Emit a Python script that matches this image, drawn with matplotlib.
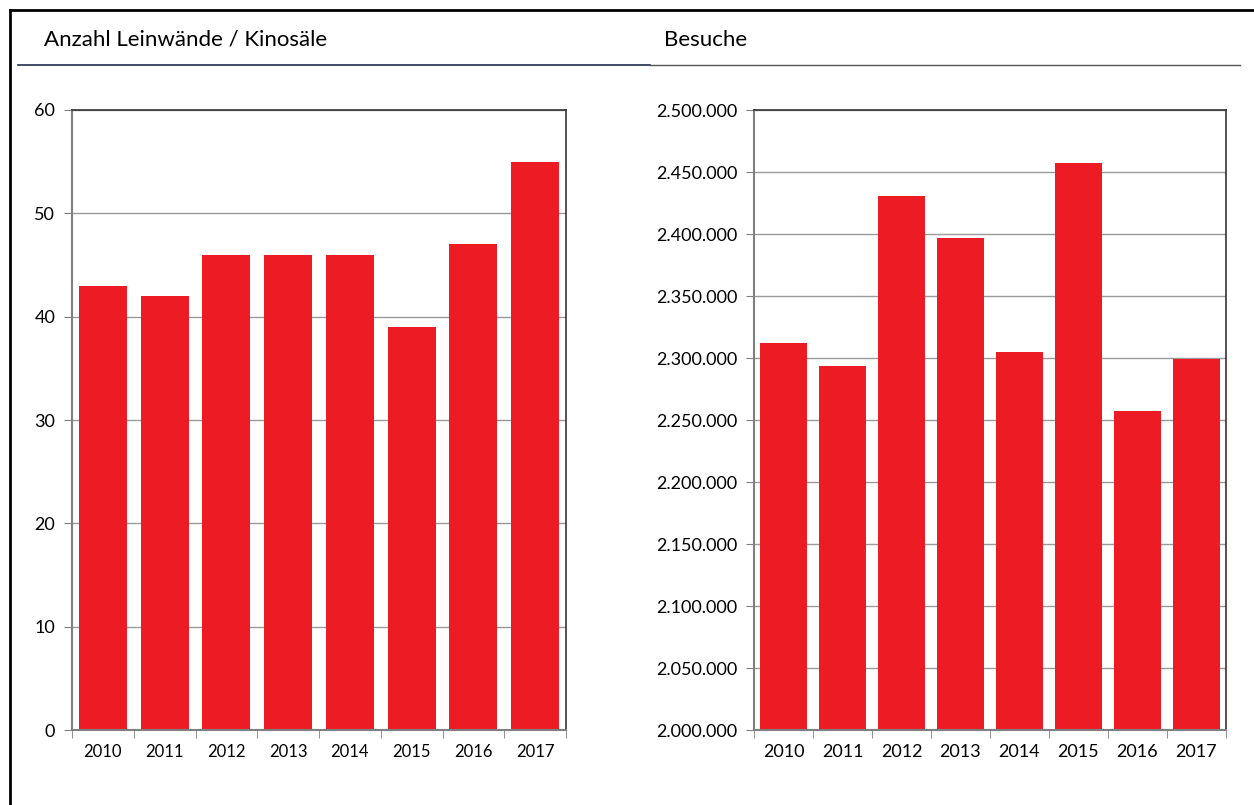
import matplotlib
matplotlib.use('Agg')
import matplotlib.pyplot as plt
from matplotlib.ticker import FuncFormatter, FixedLocator
from matplotlib.lines import Line2D

# Data
years = ['2010', '2011', '2012', '2013', '2014', '2015', '2016', '2017']
screens = [43, 42, 46, 46, 46, 39, 47, 55]
visits = [2312000, 2293500, 2430600, 2396800, 2304800, 2457300, 2257000, 2299000]

title_left = 'Anzahl Leinwände / Kinosäle'
title_right = 'Besuche'

red = '#ED1C24'
plt.rcParams['font.family'] = ['Lato', 'DejaVu Sans']

fig = plt.figure(figsize=(12.54, 8.05), dpi=100)
W, H = 1254, 805


def px_axes(x0, y0, x1, y1):
    return fig.add_axes([x0 / W, 1 - y1 / H, (x1 - x0) / W, (y1 - y0) / H])


def style(ax, n, ysize, xsize):
    ax.set_xlim(-0.5, n - 0.5)
    ax.set_axisbelow(True)
    ax.yaxis.grid(True, color='#9a9a9a', linewidth=1)
    for side in ['left', 'bottom']:
        ax.spines[side].set_color('#808080')
        ax.spines[side].set_linewidth(1.5)
    for side in ['top', 'right']:
        ax.spines[side].set_color('#333333')
        ax.spines[side].set_linewidth(1.2)
    ax.tick_params(axis='y', length=6, color='#808080', labelsize=ysize, pad=6)
    ax.tick_params(axis='x', which='major', length=0, labelsize=xsize, pad=10)
    ax.xaxis.set_minor_locator(FixedLocator([i - 0.5 for i in range(n + 1)]))
    ax.tick_params(axis='x', which='minor', length=6, color='#808080')


# left chart
ax1 = px_axes(72, 110, 566, 730)
x = range(len(years))
ax1.bar(x, screens, width=0.78, color=red)
ax1.set_ylim(0, 60)
ax1.set_yticks(range(0, 61, 10))
ax1.set_xticks(list(x))
ax1.set_xticklabels(years)
style(ax1, len(years), 13, 12)

# right chart
ax2 = px_axes(754, 110, 1226, 730)
ax2.bar(x, visits, width=0.8, color=red)
ax2.set_ylim(2000000, 2500000)
ax2.set_yticks(range(2000000, 2500001, 50000))
ax2.yaxis.set_major_formatter(FuncFormatter(lambda v, p: f'{int(v):,}'.replace(',', '.')))
ax2.set_xticks(list(x))
ax2.set_xticklabels(years)
style(ax2, len(years), 13, 13)

# titles
fig.text(44 / W, 1 - 40 / H, title_left, fontsize=16, va='center', ha='left')
fig.text(664 / W, 1 - 40 / H, title_right, fontsize=16, va='center', ha='left')

# frame and title underline
fig.add_artist(Line2D([10 / W, 1], [1 - 10 / H] * 2, color='black', linewidth=2))
fig.add_artist(Line2D([10 / W, 10 / W], [1 - 10 / H, 0], color='black', linewidth=2))
fig.add_artist(Line2D([18 / W, 650 / W], [1 - 65 / H] * 2, color='#1f2f4a', linewidth=1.2))
fig.add_artist(Line2D([650 / W, 1240 / W], [1 - 65 / H] * 2, color='#555555', linewidth=1))

fig.savefig('out.png', dpi=100)
